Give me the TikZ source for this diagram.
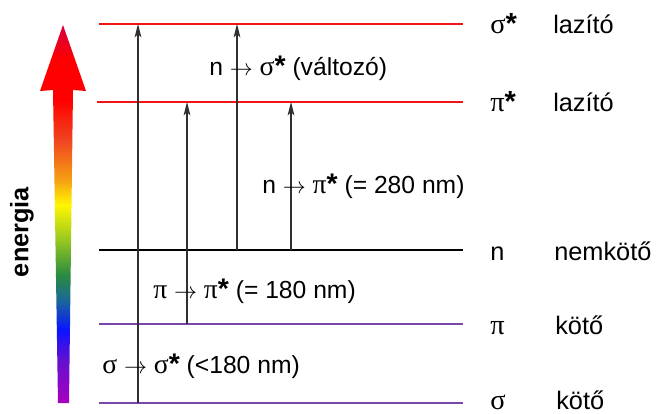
\documentclass[tikz,border=0pt]{standalone}
\usepackage{fontspec}
\setmainfont{Liberation Sans}
\newfontfamily\grk[Scale=1.12]{Liberation Serif}
\newfontfamily\starfont[Scale=1.15]{Liberation Sans Bold}
\usetikzlibrary{arrows.meta}

\definecolor{antired}{HTML}{F01414}
\definecolor{bondviolet}{HTML}{7A46AA}
\definecolor{trgray}{HTML}{303030}
\definecolor{enviolet}{HTML}{A800C0}
\definecolor{enpurple}{HTML}{6410D0}
\definecolor{enblue}{HTML}{0A14FF}
\definecolor{enteal}{HTML}{1A6898}
\definecolor{engreen}{HTML}{2A8A40}
\definecolor{enlime}{HTML}{98C820}
\definecolor{enyellow}{HTML}{FFF600}
\definecolor{enorange}{HTML}{F5A012}
\definecolor{enredorange}{HTML}{F04420}
\definecolor{enred}{HTML}{FF0000}
\definecolor{encrimson}{HTML}{D40040}

\pgfdeclareverticalshading{energyshade}{100bp}{%
  color(0bp)=(enviolet); color(25bp)=(enviolet);
  color(30.7bp)=(enpurple); color(34.7bp)=(enblue);
  color(38.6bp)=(enteal); color(41.9bp)=(engreen);
  color(46.6bp)=(enlime); color(51.2bp)=(enyellow);
  color(54.5bp)=(enorange); color(59.8bp)=(enredorange);
  color(65.1bp)=(enred); color(70.4bp)=(enred);
  color(75bp)=(encrimson); color(100bp)=(encrimson)}

\newcommand{\gs}{{\grk σ}}
\newcommand{\gp}{{\grk π}}
\newcommand{\str}{{\starfont *}}
\newcommand{\tto}{$\rightarrow$}

\begin{document}
\begin{tikzpicture}[x=0.75pt,y=-0.75pt,
    level/.style={line width=1.6pt},
    trans/.style={draw=trgray, line width=0.8pt, -{Stealth[length=10pt,width=5pt,inset=2.5pt]}},
    trlabel/.style={anchor=base west, inner sep=0pt, font=\fontsize{18.5}{21}\selectfont},
    lvlsym/.style={anchor=base west, inner sep=0pt, font=\fontsize{19}{22}\selectfont},
    lvlname/.style={anchor=base west, inner sep=0pt, font=\fontsize{19}{22}\selectfont}]
\useasboundingbox (0,0) rectangle (664,414);

% energy axis
\shade[shading=energyshade] (58,403) -- (53,90) -- (40,91) -- (63,25)
    -- (86,91) -- (73,90) -- (69,403) -- cycle;
\node[rotate=90, font=\fontsize{19}{22}\selectfont\bfseries] (en) at (22,232) {energia};

% levels
\coordinate (sigs-l) at (99,24);  \coordinate (sigs-r) at (463,24);
\coordinate (pis-l) at (97,102);  \coordinate (pis-r) at (463,102);
\coordinate (n-l) at (99,250);    \coordinate (n-r) at (463,250);
\coordinate (pi-l) at (99,324);   \coordinate (pi-r) at (463,324);
\coordinate (sig-l) at (99,403);  \coordinate (sig-r) at (463,403);
\draw[level, antired] (sigs-l) -- (sigs-r);
\draw[level, antired] (pis-l) -- (pis-r);
\draw[level, black] (n-l) -- (n-r);
\draw[level, bondviolet] (pi-l) -- (pi-r);
\draw[level, bondviolet] (sig-l) -- (sig-r);

% transitions
\draw[trans] (138,0 |- sig-l) -- (138,0 |- sigs-l);
\draw[trans] (187,0 |- pi-l) -- (187,0 |- pis-l);
\draw[trans] (237,0 |- n-l) -- (237,0 |- sigs-l);
\draw[trans] (291,0 |- n-l) -- (291,0 |- pis-l);

\node[trlabel] (nsig) at (209,75) {n \tto{} \gs\str{} (változó)};
\node[trlabel] (npi) at (262,193) {n \tto{} \gp\str{} (= 280 nm)};
\node[trlabel] (pipi) at (153,298) {\gp{} \tto{} \gp\str{} (= 180 nm)};
\node[trlabel] (sigsig) at (102,373) {\gs{} \tto{} \gs\str{} (<180 nm)};

% level names
\node[lvlsym] (sigs-sym) at (490,33) {\gs\str};
\node[lvlname] (sigs-name) at (553,33) {lazító};
\node[lvlsym] (pis-sym) at (490,111) {\gp\str};
\node[lvlname] (pis-name) at (553,111) {lazító};
\node[lvlsym] (n-sym) at (490,260) {n};
\node[lvlname] (n-name) at (554,260) {nemkötő};
\node[lvlsym] (pi-sym) at (490,334) {\gp};
\node[lvlname] (pi-name) at (555,334) {kötő};
\node[lvlsym] (sig-sym) at (490,409) {\gs};
\node[lvlname] (sig-name) at (556,409) {kötő};
\end{tikzpicture}
\end{document}
